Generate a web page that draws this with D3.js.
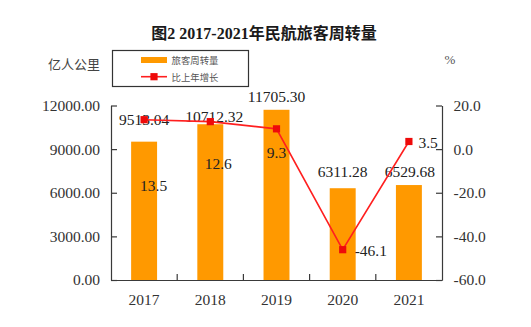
<!DOCTYPE html>
<html><head><meta charset="utf-8">
<script src="https://cdn.jsdelivr.net/npm/d3@7"></script>
<style>body{margin:0;background:#fff}svg{display:block}</style>
</head><body>
<svg id="c" width="531" height="327"></svg>
<script>
// ---- data ----
const years = ["2017", "2018", "2019", "2020", "2021"];
const turnover = [9513.04, 10712.32, 11705.30, 6311.28, 6529.68];
const growth = [13.5, 12.6, 9.3, -46.1, 3.5];
const leftTicks = [0, 3000, 6000, 9000, 12000];
const rightTicks = [-60, -40, -20, 0, 20];
const titleText = "图2  2017-2021年民航旅客周转量";
const leftUnit = "亿人公里";
const rightUnit = "%";
const legendLabels = ["旅客周转量", "比上年增长"];

// ---- layout (label placement tweaks) ----
const barLabelShift = [[0, -21.7], [4, -7.5], [0, -13], [0, -16.5], [1, -13.3]];
const lineLabelShift = [[9.5, 66, "middle"], [8, 42, "middle"], [0, 24, "middle"], [12, 1, "start"], [9.5, 1, "start"]];

const W = 531, H = 327;
const m = {left: 111, right: 442, top: 105.5, bottom: 280};
const NUM = "'Liberation Serif','Noto Sans CJK SC',serif";
const CJK = "'Noto Sans CJK SC',sans-serif";
const BAR = "#ff9900", RED = "#ff1f1f", AX = "#3a3a3a", TXT = "#333";

const svg = d3.select("#c");
svg.append("rect").attr("width", W).attr("height", H).attr("fill", "#fff");

const x = d3.scaleBand().domain(years).range([m.left, m.right]).paddingInner(0.608).paddingOuter(0.304);
const step = x.step();
const yL = d3.scaleLinear().domain([0, 12000]).range([m.bottom, m.top]);
const yR = d3.scaleLinear().domain([-60, 20]).range([m.bottom, m.top]);

// title
svg.append("text").attr("x", 264).attr("y", 33.5).attr("text-anchor", "middle")
  .attr("dominant-baseline", "central").attr("font-family", NUM).attr("font-weight", "bold")
  .attr("font-size", 16).attr("fill", "#1a1a1a").text(titleText);

// units
svg.append("text").attr("x", 74).attr("y", 63.5).attr("text-anchor", "middle")
  .attr("dominant-baseline", "central").attr("font-family", CJK).attr("font-size", 13)
  .attr("fill", "#444").text(leftUnit);
svg.append("text").attr("x", 450).attr("y", 59.5).attr("text-anchor", "middle")
  .attr("dominant-baseline", "central").attr("font-family", NUM).attr("font-size", 13)
  .attr("fill", "#555").text(rightUnit);

// bars
svg.append("g").selectAll("rect").data(years).join("rect")
  .attr("x", d => x(d)).attr("width", x.bandwidth())
  .attr("y", (d, i) => yL(turnover[i])).attr("height", (d, i) => yL(0) - yL(turnover[i]))
  .attr("fill", BAR);

// axes
const fmtL = d3.format(".2f"), fmtR = d3.format(".1f");
const gL = svg.append("g").attr("transform", `translate(${m.left},0)`)
  .call(d3.axisLeft(yL).tickValues(leftTicks).tickFormat(fmtL).tickSizeInner(-6).tickSizeOuter(0).tickPadding(11));
const gR = svg.append("g").attr("transform", `translate(${m.right},0)`)
  .call(d3.axisRight(yR).tickValues(rightTicks).tickFormat(v => fmtR(v).replace("−", "-")).tickSizeInner(-6).tickSizeOuter(0).tickPadding(11.5));
const gX = svg.append("g").attr("transform", `translate(0,${m.bottom})`)
  .call(d3.axisBottom(x).tickSize(0).tickPadding(14));
[gL, gR, gX].forEach(g => {
  g.select(".domain").attr("stroke", AX).attr("stroke-width", 1.2);
  g.selectAll(".tick line").attr("stroke", AX).attr("stroke-width", 1.2);
  g.selectAll("text").attr("font-family", NUM).attr("font-size", 15.5).attr("fill", TXT);
});
gR.selectAll("text").attr("text-anchor", "start");
gX.selectAll("text").attr("dy", "0.71em");
// category boundary ticks (pointing up)
svg.append("g").selectAll("line").data(years.slice(1)).join("line")
  .attr("x1", d => x(d) - x.step() * x.paddingInner() / 2).attr("x2", d => x(d) - x.step() * x.paddingInner() / 2)
  .attr("y1", m.bottom).attr("y2", m.bottom - 6).attr("stroke", AX).attr("stroke-width", 1.2);

// bar labels
svg.append("g").selectAll("text").data(years).join("text")
  .attr("x", (d, i) => x(d) + x.bandwidth() / 2 + barLabelShift[i][0])
  .attr("y", (d, i) => yL(turnover[i]) + barLabelShift[i][1])
  .attr("text-anchor", "middle").attr("dominant-baseline", "central")
  .attr("font-family", NUM).attr("font-size", 15.5).attr("fill", "#222")
  .text((d, i) => fmtL(turnover[i]));

// line
const cx = d => x(d) + x.bandwidth() / 2;
const line = d3.line().x((d, i) => cx(years[i])).y(d => yR(d));
svg.append("path").datum(growth).attr("d", line).attr("fill", "none")
  .attr("stroke", RED).attr("stroke-width", 1.6);
svg.append("g").selectAll("rect").data(growth).join("rect")
  .attr("x", (d, i) => cx(years[i]) - 3.6).attr("y", d => yR(d) - 3.6)
  .attr("width", 7.2).attr("height", 7.2).attr("fill", "#ee0a0a");

// line labels
svg.append("g").selectAll("text").data(growth).join("text")
  .attr("x", (d, i) => cx(years[i]) + lineLabelShift[i][0])
  .attr("y", (d, i) => yR(d) + lineLabelShift[i][1])
  .attr("text-anchor", (d, i) => lineLabelShift[i][2]).attr("dominant-baseline", "central")
  .attr("font-family", NUM).attr("font-size", 15.5).attr("fill", "#222")
  .text(d => fmtR(d).replace("−", "-"));

// legend
const lg = svg.append("g");
lg.append("rect").attr("x", 112.5).attr("y", 50.5).attr("width", 136).attr("height", 36)
  .attr("fill", "#fff").attr("stroke", "#333").attr("stroke-width", 1.2);
lg.append("rect").attr("x", 141).attr("y", 57).attr("width", 26).attr("height", 6).attr("fill", BAR);
lg.append("line").attr("x1", 141).attr("x2", 167).attr("y1", 76.7).attr("y2", 76.7)
  .attr("stroke", RED).attr("stroke-width", 1.6);
lg.append("rect").attr("x", 154 - 3.6).attr("y", 76.7 - 3.6).attr("width", 7.2).attr("height", 7.2).attr("fill", "#ee0a0a");
lg.selectAll("text.lt").data(legendLabels).join("text").attr("class", "lt")
  .attr("x", 171.5).attr("y", (d, i) => i === 0 ? 60 : 76.7)
  .attr("dominant-baseline", "central").attr("font-family", CJK).attr("font-size", 9.4)
  .attr("fill", "#555").text(d => d);
</script>
</body></html>
